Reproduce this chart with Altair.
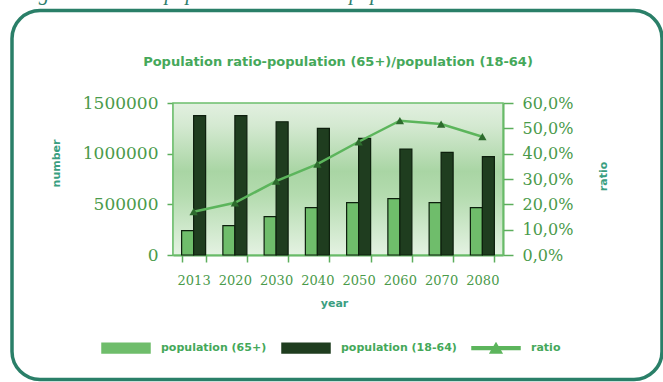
import altair as alt
import pandas as pd

years = ["2013", "2020", "2030", "2040", "2050", "2060", "2070", "2080"]
pop_65 = [240000, 290000, 378000, 467000, 516000, 556000, 516000, 467000]
pop_18_64 = [1375000, 1375000, 1315000, 1250000, 1151000, 1046000, 1013000, 970000]
ratio = [0.171, 0.206, 0.292, 0.359, 0.447, 0.530, 0.517, 0.467]
series_names = ["population (65+)", "population (18-64)", "ratio"]
left_ticks = [0, 500000, 1000000, 1500000]
right_ticks = [0, 0.1, 0.2, 0.3, 0.4, 0.5, 0.6]
chart_title = ["Population ratio-population (65+)/population (18-64)"]
caption = ["Figure 3: Senior population ratio over population"]

W, H = 330, 152
PL, PT = 173, 103

bars_df = pd.DataFrame(
    [{"year": y, "series": series_names[0], "value": v} for y, v in zip(years, pop_65)]
    + [{"year": y, "series": series_names[1], "value": v} for y, v in zip(years, pop_18_64)]
)
ratio_df = pd.DataFrame({"year": years, "ratio": ratio, "series": series_names[2]})

TXT = "#45a85a"
AX = "#5cae5c"
LBL = "#4a9a4a"
ATT = "#3a9e80"

x_axis = alt.Axis(
    title="year", titleFont="DejaVu Sans", titleFontWeight="bold", titleFontSize=11,
    titleColor=ATT, titleX=161, titleY=48, titleAlign="center", titleBaseline="middle",
    labelFont="DejaVu Serif", labelFontSize=13, labelColor=LBL, labelAngle=0,
    labelPadding=12, tickBand="extent", tickSize=7, tickColor=AX, tickWidth=1.5,
    domainColor=AX, domainWidth=2,
)
x_enc = alt.X("year:N", sort=years, axis=x_axis,
              scale=alt.Scale(paddingInner=0.418, paddingOuter=0.209))

legend = alt.Legend(
    orient="none", legendX=-72, legendY=220, direction="horizontal", title=None,
    symbolSize=2304, labelFont="DejaVu Sans", labelFontWeight="bold", labelFontSize=11,
    labelColor=TXT, labelOffset=10, columnPadding=12,
    symbolType=alt.ExprRef(expr="datum.value === 'ratio' ? 'M-1,-0.06H1V0.06H-1Z M-0.24,0.2L0,-0.2L0.24,0.2Z' : 'M-1,-0.2H1V0.2H-1Z'"),
    symbolStrokeWidth=1.5,
    symbolOpacity=1,
)
color_scale = alt.Scale(domain=series_names, range=["#6fbd6b", "#1f3d1f", "#5cb55c"])

bg = alt.Chart(pd.DataFrame({"k": [0]})).mark_rect(
    fill=alt.Gradient(
        gradient="linear", x1=0, x2=0, y1=0, y2=1,
        stops=[
            alt.GradientStop(offset=0, color="#e2f0e0"),
            alt.GradientStop(offset=0.15, color="#d4e9d1"),
            alt.GradientStop(offset=0.45, color="#a9d5a4"),
            alt.GradientStop(offset=0.6, color="#b3dbae"),
            alt.GradientStop(offset=1, color="#e4f2e2"),
        ],
    ),
    stroke="#6cbf6c", strokeWidth=1.5,
).encode(x=alt.value(0), x2=alt.value(W), y=alt.value(0), y2=alt.value(H))

frame = alt.Chart(pd.DataFrame({"k": [0]})).mark_rect(
    fill=None, stroke="#2a7f68", strokeWidth=3.5, cornerRadius=28,
).encode(x=alt.value(12 - PL), x2=alt.value(662 - PL),
         y=alt.value(10.5 - PT), y2=alt.value(379.5 - PT))

title_txt = alt.Chart(pd.DataFrame({"t": chart_title})).mark_text(
    font="DejaVu Sans", fontWeight="bold", fontSize=13, color=TXT,
    align="center", baseline="middle",
).encode(x=alt.value(338 - PL), y=alt.value(62 - PT), text="t:N")

cap_txt = alt.Chart(pd.DataFrame({"t": caption})).mark_text(
    font="Liberation Serif", fontStyle="italic", fontSize=21, color="#2e7d6b",
    align="left", baseline="alphabetic",
).encode(x=alt.value(20 - PL), y=alt.value(0 - PT), text="t:N")

bars = alt.Chart(bars_df).mark_bar(
    stroke=alt.ExprRef(expr="datum.value === 'ratio' ? 'transparent' : '#0d1f0d'"),
    strokeWidth=1.2,
).encode(
    x=x_enc,
    xOffset=alt.XOffset("series:N", sort=series_names[:2],
                        scale=alt.Scale(paddingInner=0, paddingOuter=0)),
    y=alt.Y("value:Q", scale=alt.Scale(domain=[0, 1500000]),
            axis=alt.Axis(
                values=left_ticks, format="d", title="number",
                titleFont="DejaVu Sans", titleFontWeight="bold", titleFontSize=11,
                titleColor=ATT, titleX=-117, titleY=60, titleAngle=270,
                titleAlign="center", titleBaseline="middle",
                labelFont="DejaVu Serif", labelFontSize=17, labelColor=LBL,
                labelPadding=9, tickSize=6, tickColor=AX, tickWidth=1.5,
                domainColor=AX, domainWidth=2, grid=False)),
    color=alt.Color("series:N", scale=color_scale, legend=legend),
)

right_axis = alt.Axis(
    orient="right", values=right_ticks,
    labelExpr="replace(format(datum.value * 100, '.1f'), '.', ',') + '%'",
    title="ratio", titleFont="DejaVu Sans", titleFontWeight="bold", titleFontSize=11,
    titleColor=ATT, titleX=100, titleY=73, titleAngle=270,
    titleAlign="center", titleBaseline="middle",
    labelFont="DejaVu Serif", labelFontSize=16, labelColor=LBL,
    labelPadding=9, tickSize=10, tickColor=AX, tickWidth=1.5,
    domainColor=AX, domainWidth=2, grid=False,
)
y_ratio = alt.Y("ratio:Q", scale=alt.Scale(domain=[0, 0.6]), axis=right_axis)

line = alt.Chart(ratio_df).mark_line(strokeWidth=2.5).encode(
    x=x_enc, y=y_ratio,
    color=alt.Color("series:N", scale=color_scale, legend=None),
)
pts = alt.Chart(ratio_df).mark_point(shape="triangle-up", filled=True, size=70,
                                     fill="#2d6b2d", opacity=1).encode(
    x=x_enc, y=y_ratio,
)

ratio_layer = alt.layer(line, pts)

chart = alt.layer(bg, frame, cap_txt, title_txt, bars, ratio_layer).resolve_scale(
    y="independent"
).properties(
    width=W, height=H,
    padding={"left": PL, "top": PT, "right": 663 - PL - W, "bottom": 382 - PT - H},
    autosize=alt.AutoSizeParams(type="none"),
    background="white",
).configure_view(stroke=None)

chart.save("out.html", embed_options={"renderer": "svg", "actions": False})
